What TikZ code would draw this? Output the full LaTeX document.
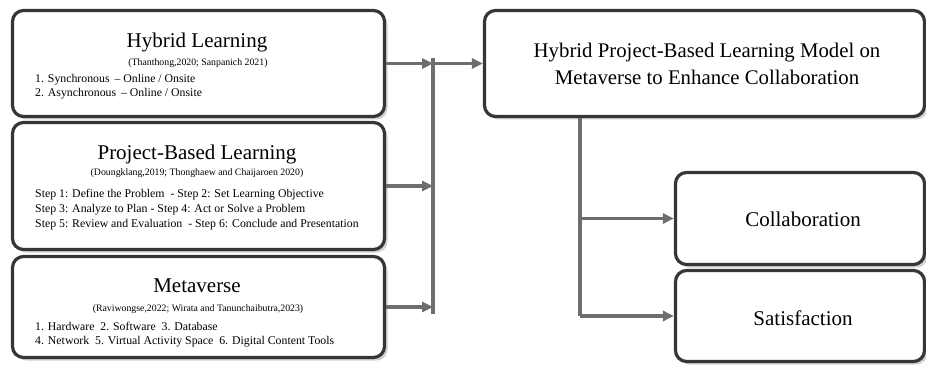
\documentclass[tikz,border=0pt]{standalone}
\usepackage{fontspec}
\setmainfont{Liberation Serif}
\usetikzlibrary{arrows.meta,shadows}
\definecolor{bord}{HTML}{363636}
\definecolor{arrc}{HTML}{6E6E6E}
\begin{document}
\begin{tikzpicture}[x=1pt,y=-1pt,
  box/.style={draw=bord, line width=3.2pt, rounded corners=11pt, fill=white, inner sep=0pt,
    drop shadow={shadow xshift=3pt, shadow yshift=-3pt, opacity=0.3, fill=black!60}},
  ttl/.style={anchor=base, inner sep=0pt, font=\fontsize{21}{24}\selectfont},
  big/.style={anchor=base, inner sep=0pt, font=\fontsize{20.8}{28}\selectfont},
  cite/.style={anchor=base, inner sep=0pt, font=\fontsize{9.8}{11}\selectfont},
  item/.style={anchor=base west, inner sep=0pt, font=\fontsize{11.8}{14}\selectfont},
  ln/.style={draw=arrc, line width=3.2pt},
  arr/.style={ln, -{Triangle[length=11pt,width=10pt]}}]
\useasboundingbox (0,0) rectangle (926,366);

% left boxes
\node[box, minimum width=372pt, minimum height=106pt] (hl) at (198.5,63.5) {};
\node[box, minimum width=372pt, minimum height=127pt] (pbl) at (198.5,186) {};
\node[box, minimum width=372pt, minimum height=101pt] (meta) at (198.5,307) {};

% right boxes
\node[box, minimum width=440pt, minimum height=106pt] (model) at (704.5,63.5) {};
\node[box, minimum width=249pt, minimum height=92pt] (collab) at (800,218.5) {};
\node[box, minimum width=249pt, minimum height=91pt] (satis) at (800,316) {};

% texts: Hybrid Learning
\node[ttl] (hlT) at (197,48) {Hybrid Learning};
\node[cite] (hlC) at (198,66) {(Thanthong,2020; Sanpanich 2021)};
\node[item] (hl1) at (35,83) {1. Synchronous \,– Online / Onsite};
\node[item] (hl2) at (35,97) {2. Asynchronous \,– Online / Onsite};

% Project-Based Learning
\node[ttl] (pblT) at (197,160) {Project-Based Learning};
\node[cite] (pblC) at (197,176) {(Doungklang,2019; Thonghaew and Chaijaroen 2020)};
\node[item] (pbl1) at (35,197) {Step 1: Define the Problem \ - Step 2: Set Learning Objective};
\node[item] (pbl2) at (35,212) {Step 3: Analyze to Plan - Step 4: Act or Solve a Problem};
\node[item] (pbl3) at (35,227) {Step 5: Review and Evaluation \ - Step 6: Conclude and Presentation};

% Metaverse
\node[ttl] (metaT) at (197,292) {Metaverse};
\node[cite] (metaC) at (198,311) {(Raviwongse,2022; Wirata and Tanunchaibutra,2023)};
\node[item] (meta1) at (35,330) {1. Hardware \ 2. Software \ 3. Database};
\node[item] (meta2) at (35,344) {4. Network \ 5. Virtual Activity Space \ 6. Digital Content Tools};

% right texts
\node[big] (modelT1) at (707,58) {Hybrid Project-Based Learning Model on};
\node[big] (modelT2) at (707,85) {Metaverse to Enhance Collaboration};
\node[ttl] (collabT) at (803,226) {Collaboration};
\node[ttl] (satisT) at (803,325) {Satisfaction};

% bus
\coordinate (bustop) at (433,58);
\coordinate (busbot) at (433,314);
\draw[ln] (bustop) -- (busbot);
\draw[arr] (hl.east) -- (hl.east -| bustop);
\draw[arr] (pbl.east) -- (pbl.east -| bustop);
\draw[arr] (meta.east) -- (meta.east -| bustop);
\draw[arr] (model.west -| bustop) -- (model.west);

% trunk
\coordinate (trunk) at (580,117);
\draw[ln] (model.south -| trunk) -- (satis.west -| trunk);
\draw[arr] (collab.west -| trunk) -- (collab.west);
\draw[arr] (satis.west -| trunk) -- (satis.west);
\end{tikzpicture}
\end{document}
